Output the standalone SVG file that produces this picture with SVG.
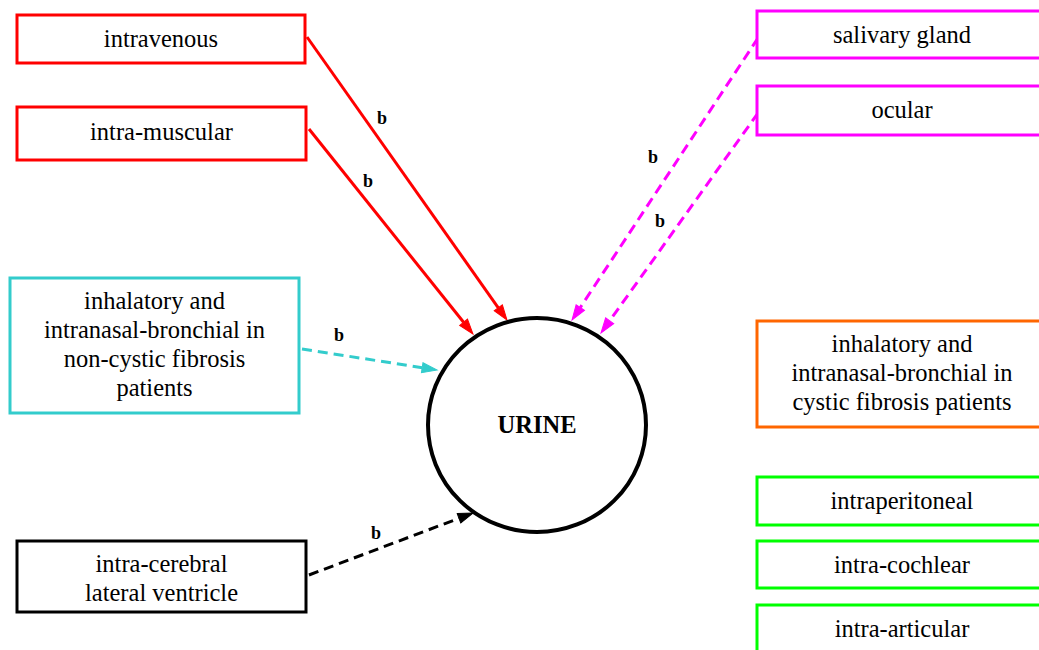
<svg xmlns="http://www.w3.org/2000/svg" width="1039" height="650" viewBox="0 0 1039 650">
<style>
.box{fill:#fff;stroke-width:3}
.t{font-family:"Liberation Serif","Times New Roman",serif;font-size:24.5px;fill:#000;text-anchor:middle}
.lbl{font-family:"Liberation Serif","Times New Roman",serif;font-size:18px;font-weight:bold;fill:#000;text-anchor:middle}
.e{fill:none;stroke-width:3}
.d{stroke-dasharray:10,6}
</style>
<defs>
<marker id="aR" markerUnits="userSpaceOnUse" viewBox="0 -6 16 12" refX="0" refY="0" markerWidth="16" markerHeight="12" orient="auto" overflow="visible"><path d="M0,-5L15,0L0,5z" fill="#ff0000" stroke="#ff0000" stroke-width="1"/></marker>
<marker id="aC" markerUnits="userSpaceOnUse" viewBox="0 -6 16 12" refX="0" refY="0" markerWidth="16" markerHeight="12" orient="auto" overflow="visible"><path d="M0,-5L15,0L0,5z" fill="#33cccc" stroke="#33cccc" stroke-width="1"/></marker>
<marker id="aK" markerUnits="userSpaceOnUse" viewBox="0 -6 16 12" refX="0" refY="0" markerWidth="16" markerHeight="12" orient="auto" overflow="visible"><path d="M0,-5L15,0L0,5z" fill="#000" stroke="#000" stroke-width="1"/></marker>
<marker id="aM" markerUnits="userSpaceOnUse" viewBox="0 -6 16 12" refX="0" refY="0" markerWidth="16" markerHeight="12" orient="auto" overflow="visible"><path d="M0,-5L15,0L0,5z" fill="#ff00ff" stroke="#ff00ff" stroke-width="1"/></marker>
</defs>
<rect width="1039" height="650" fill="#fff"/>
<g id="edges">
<g id="e-iv"><path class="e" stroke="#ff0000" d="M307,37L498.3,307.8" marker-end="url(#aR)"/><text class="lbl" x="382" y="124">b</text></g>
<g id="e-im"><path class="e" stroke="#ff0000" d="M309,129L463.6,322.3" marker-end="url(#aR)"/><text class="lbl" x="368" y="187">b</text></g>
<g id="e-inh"><path class="e d" stroke="#33cccc" d="M302,349L422.2,367.7" marker-end="url(#aC)"/><text class="lbl" x="339" y="341">b</text></g>
<g id="e-icv"><path class="e d" stroke="#000" d="M309,575L459,518.3" marker-end="url(#aK)"/><text class="lbl" x="376" y="539">b</text></g>
<g id="e-sal"><path class="e d" stroke="#ff00ff" d="M758,38L580.3,307.5" marker-end="url(#aM)"/><text class="lbl" x="653" y="163">b</text></g>
<g id="e-oc"><path class="e d" stroke="#ff00ff" d="M758,113L609.7,320.8" marker-end="url(#aM)"/><text class="lbl" x="660" y="227">b</text></g>
</g>
<g id="urine"><ellipse cx="537" cy="425" rx="109" ry="107" fill="#fff" stroke="#000" stroke-width="4"/><text class="t" x="537" y="433" font-weight="bold">URINE</text></g>
<g id="intravenous"><rect class="box" x="17" y="15" width="288" height="48" stroke="#ff0000"/><text class="t" x="161" y="47">intravenous</text></g>
<g id="intramuscular"><rect class="box" x="17" y="107" width="289" height="53" stroke="#ff0000"/><text class="t" x="161.5" y="140">intra-muscular</text></g>
<g id="inhal-noncf"><rect class="box" x="10" y="278" width="289" height="135" stroke="#33cccc"/><text class="t" x="154.5" y="309">inhalatory and</text><text class="t" x="154.5" y="338">intranasal-bronchial in</text><text class="t" x="154.5" y="367">non-cystic fibrosis</text><text class="t" x="154.5" y="396">patients</text></g>
<g id="intracerebral"><rect class="box" x="17" y="541" width="289" height="71" stroke="#000"/><text class="t" x="161.5" y="572">intra-cerebral</text><text class="t" x="161.5" y="601">lateral ventricle</text></g>
<g id="salivary"><rect class="box" x="757" y="11" width="290" height="47" stroke="#ff00ff"/><text class="t" x="902" y="43">salivary gland</text></g>
<g id="ocular"><rect class="box" x="757" y="86" width="290" height="49" stroke="#ff00ff"/><text class="t" x="902" y="118">ocular</text></g>
<g id="inhal-cf"><rect class="box" x="757" y="321" width="290" height="106" stroke="#ff6600"/><text class="t" x="902" y="352">inhalatory and</text><text class="t" x="902" y="381">intranasal-bronchial in</text><text class="t" x="902" y="410">cystic fibrosis patients</text></g>
<g id="intraperitoneal"><rect class="box" x="757" y="477" width="290" height="48" stroke="#00ff00"/><text class="t" x="902" y="509">intraperitoneal</text></g>
<g id="intracochlear"><rect class="box" x="757" y="541" width="290" height="47" stroke="#00ff00"/><text class="t" x="902" y="573">intra-cochlear</text></g>
<g id="intraarticular"><rect class="box" x="757" y="605" width="290" height="50" stroke="#00ff00"/><text class="t" x="902" y="637">intra-articular</text></g>
</svg>
